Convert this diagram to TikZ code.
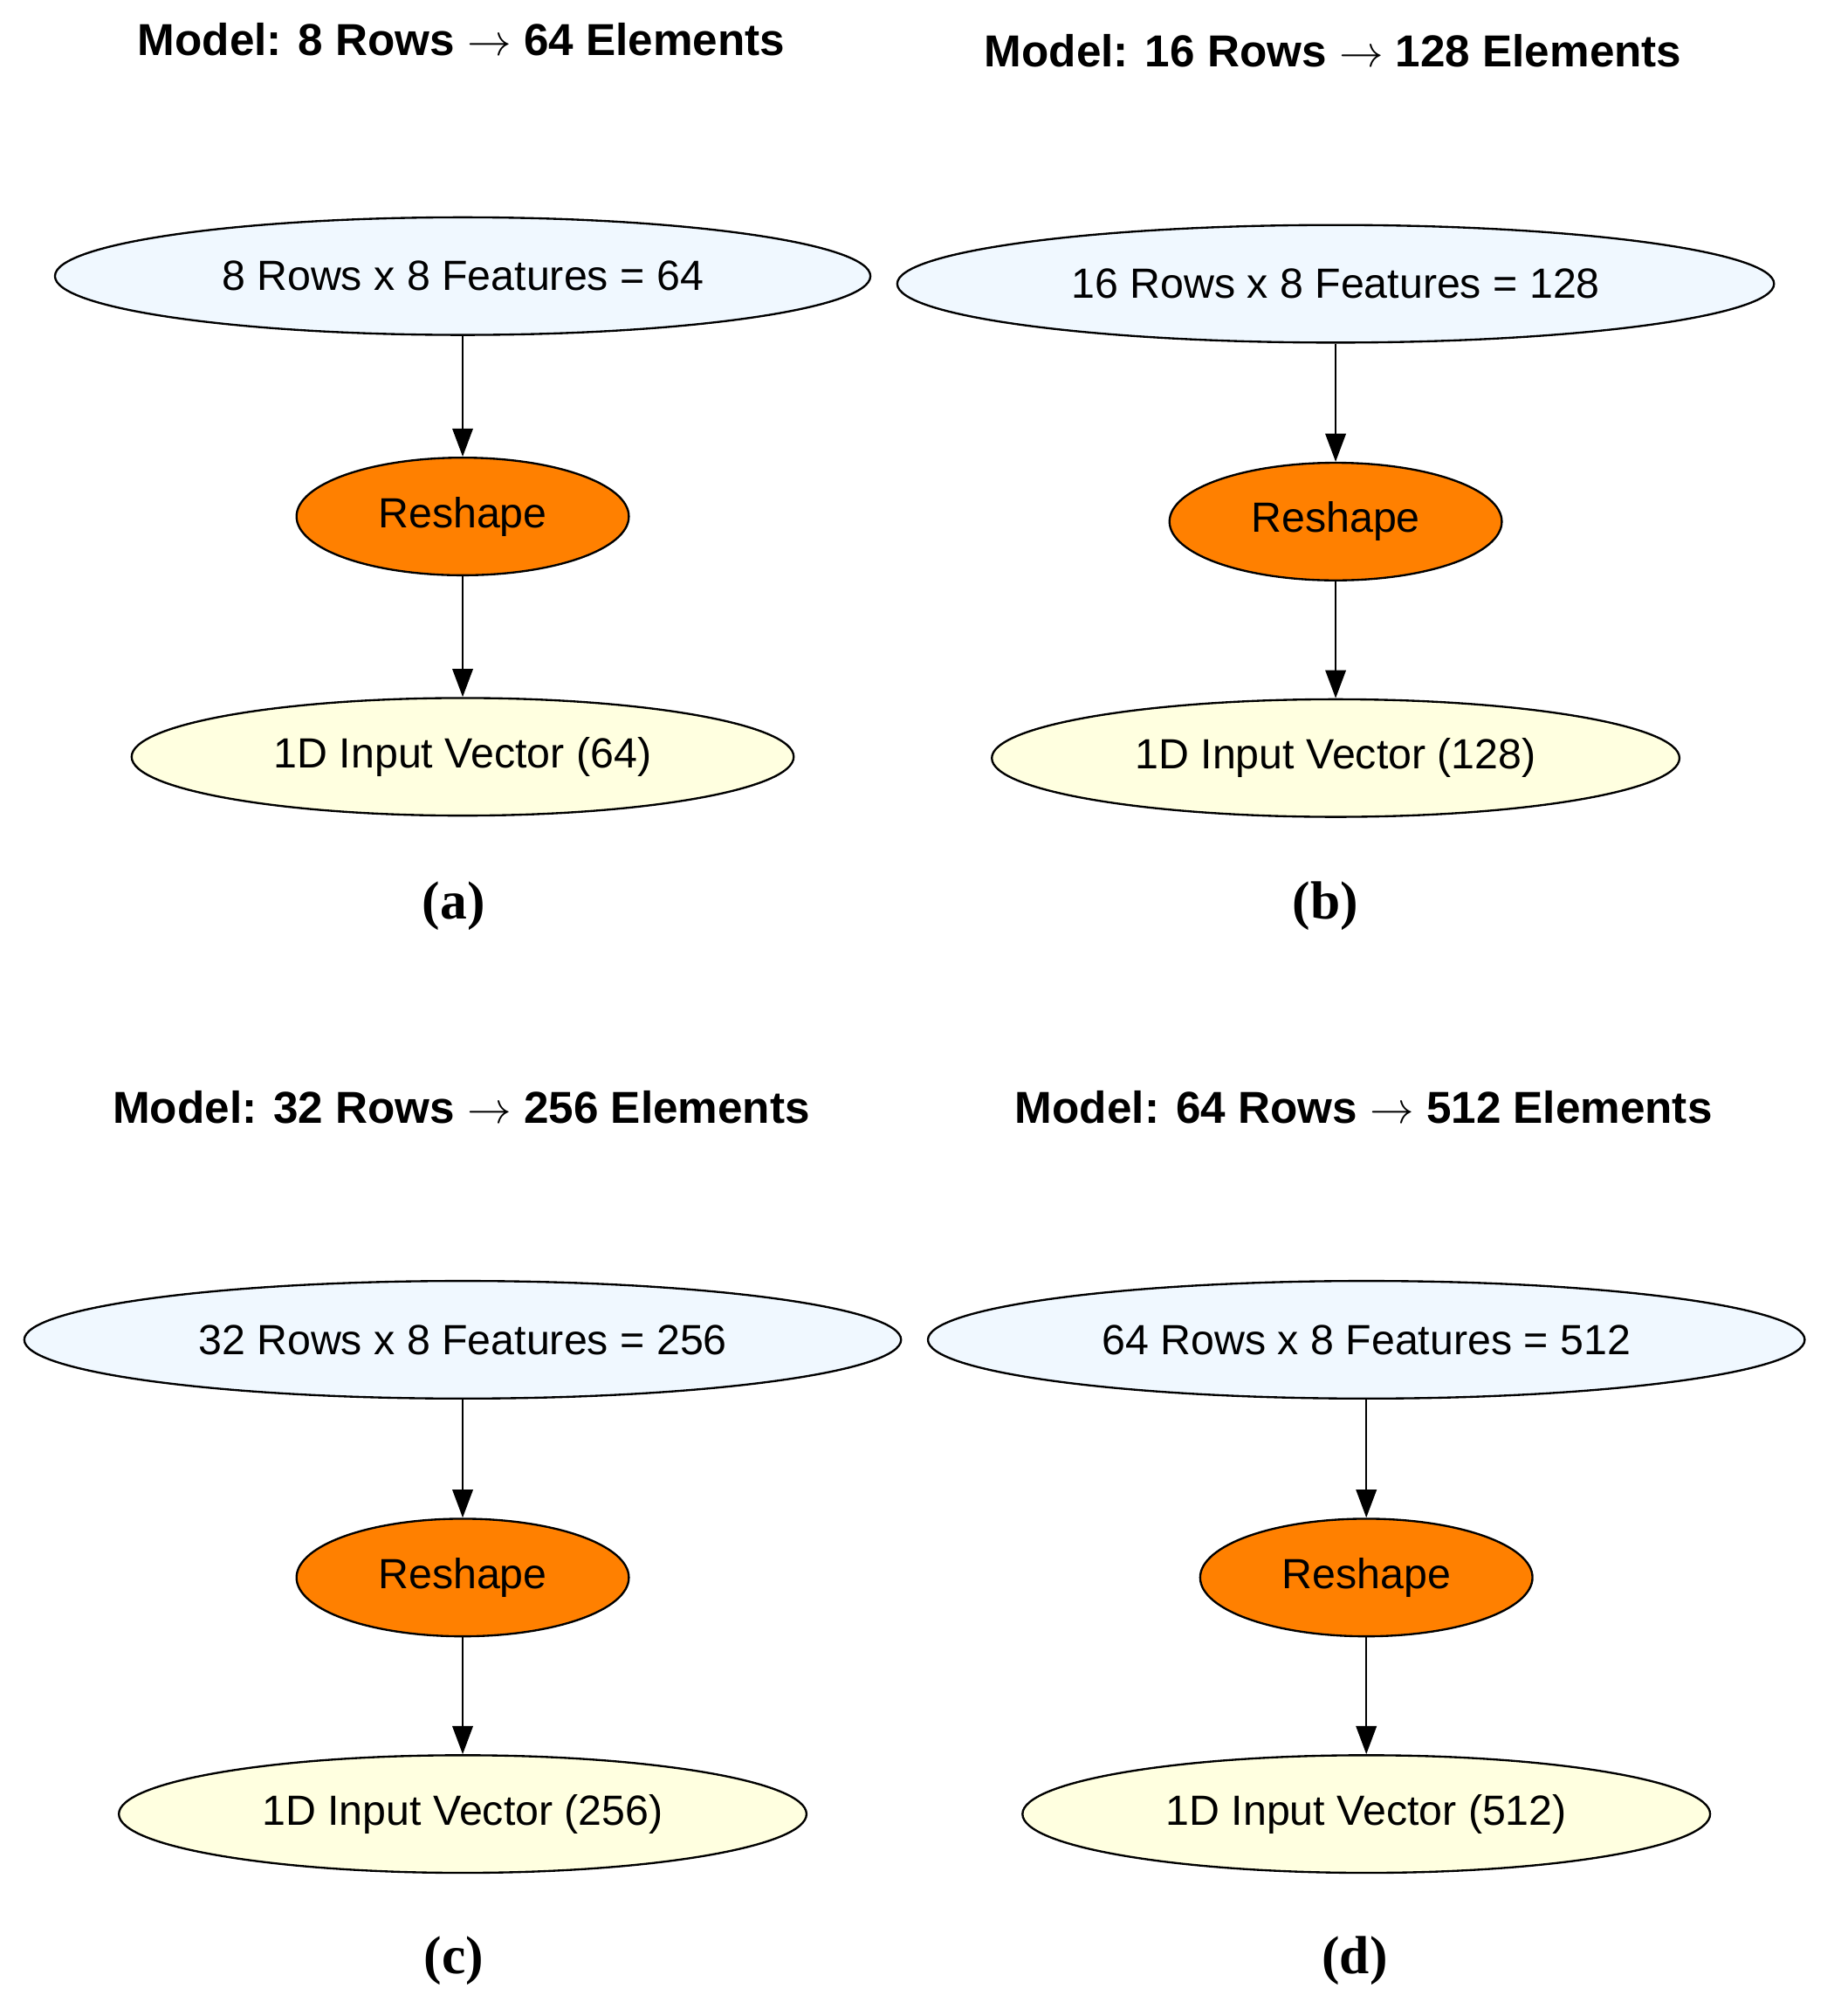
\documentclass[tikz,border=0pt]{standalone}
\usepackage{fontspec}
\setmainfont{Liberation Sans}
\newfontfamily\serifx{Liberation Serif}
\usetikzlibrary{shapes.geometric,arrows.meta}
\definecolor{bl}{HTML}{F0F8FF}
\definecolor{og}{HTML}{FF8000}
\definecolor{yl}{HTML}{FFFFE0}
\begin{document}
\begin{tikzpicture}[x=0.5pt,y=-0.5pt,
 el/.style={ellipse,draw=black,line width=0.8pt,inner sep=0pt,font=\fontsize{16.5}{18}\selectfont},
 top/.style={el,fill=bl,minimum height=46pt},
 rs/.style={el,fill=og,minimum width=130pt,minimum height=46pt},
 bot/.style={el,fill=yl,minimum height=46pt},
 ttl/.style={font=\fontsize{17.5}{20}\selectfont\bfseries},
 lab/.style={font=\serifx\fontsize{21}{24}\selectfont\bfseries},
 ar/.style={-{Triangle[length=11pt,width=8pt]},line width=0.8pt}]
\useasboundingbox (0,0) rectangle (1440,1577);
\fill[white] (0,0) rectangle (1440,1577);
% (a)
\node[ttl] (ta) at (361,31) {Model: 8 Rows $\rightarrow$ 64 Elements};
\node[top,minimum width=319pt] (a1) at (362,216) {8 Rows x 8 Features = 64};
\node[rs] (a2) at (362,404) {Reshape};
\node[bot,minimum width=259pt] (a3) at (362,592) {1D Input Vector (64)};
\node[lab] (la) at (355,709) {(a)};
\draw[ar] (a1) -- (a2); \draw[ar] (a2) -- (a3);
% (b)
\node[ttl] (tb) at (1043,40) {Model: 16 Rows $\rightarrow$ 128 Elements};
\node[top,minimum width=343pt] (b1) at (1045,222) {16 Rows x 8 Features = 128};
\node[rs] (b2) at (1045,408) {Reshape};
\node[bot,minimum width=269pt] (b3) at (1045,593) {1D Input Vector (128)};
\node[lab] (lb) at (1037,709) {(b)};
\draw[ar] (b1) -- (b2); \draw[ar] (b2) -- (b3);
% (c)
\node[ttl] (tc) at (361,866) {Model: 32 Rows $\rightarrow$ 256 Elements};
\node[top,minimum width=343pt] (c1) at (362,1048) {32 Rows x 8 Features = 256};
\node[rs] (c2) at (362,1234) {Reshape};
\node[bot,minimum width=269pt] (c3) at (362,1419) {1D Input Vector (256)};
\node[lab] (lc) at (355,1534) {(c)};
\draw[ar] (c1) -- (c2); \draw[ar] (c2) -- (c3);
% (d)
\node[ttl] (td) at (1067,866) {Model: 64 Rows $\rightarrow$ 512 Elements};
\node[top,minimum width=343pt] (d1) at (1069,1048) {64 Rows x 8 Features = 512};
\node[rs] (d2) at (1069,1234) {Reshape};
\node[bot,minimum width=269pt] (d3) at (1069,1419) {1D Input Vector (512)};
\node[lab] (ld) at (1060,1534) {(d)};
\draw[ar] (d1) -- (d2); \draw[ar] (d2) -- (d3);
\end{tikzpicture}
\end{document}
